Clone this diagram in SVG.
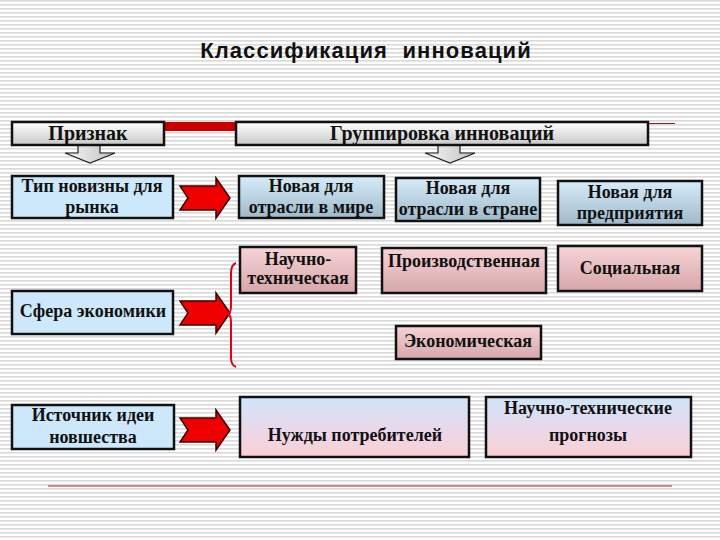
<svg xmlns="http://www.w3.org/2000/svg" width="720" height="540" viewBox="0 0 720 540">
<defs>
<pattern id="stripes" x="0" y="0" width="8" height="4" patternUnits="userSpaceOnUse">
<rect width="8" height="4" fill="#ffffff"/>
<rect y="0" width="8" height="1.6" fill="#d9d9d9"/>
</pattern>
<linearGradient id="gGray" x1="0" y1="0" x2="0" y2="1">
<stop offset="0" stop-color="#ffffff"/>
<stop offset="1" stop-color="#c8c8c8"/>
</linearGradient>
<linearGradient id="gBlueDark" x1="0" y1="0" x2="0" y2="1">
<stop offset="0" stop-color="#d6ecfa"/>
<stop offset="1" stop-color="#9fb9ca"/>
</linearGradient>
<linearGradient id="gPink" x1="0" y1="0" x2="0" y2="1">
<stop offset="0" stop-color="#f6d4d6"/>
<stop offset="1" stop-color="#d6a6aa"/>
</linearGradient>
<linearGradient id="gBluePink" x1="0" y1="0" x2="0" y2="1">
<stop offset="0" stop-color="#cfe6f8"/>
<stop offset="0.55" stop-color="#ead8ea"/>
<stop offset="1" stop-color="#fbd0d2"/>
</linearGradient>
<linearGradient id="gDown" x1="0" y1="0" x2="1" y2="0">
<stop offset="0" stop-color="#f2f2f2"/>
<stop offset="1" stop-color="#c4c4c4"/>
</linearGradient>
<path id="redArrow" d="M0,8 L36,8 L36,0 L50,20 L36,40 L36,32 L0,32 L8,20 Z"/>
<path id="downArrow" d="M-12,0 L10,0 L10,8 L25,8 L0,18 L-25,8 L-12,8 Z"/>
</defs>
<style>
.box{stroke:#111;stroke-width:2.5}
.blue{fill:#cde8fa}
.t{font-family:"Liberation Serif","Times New Roman",serif;font-weight:bold;font-size:18px;fill:#111;text-anchor:middle}
.h{font-size:20px}
.arrow{fill:#ee0000;stroke:#3a0000;stroke-width:1.5;stroke-linejoin:miter}
.down{fill:url(#gDown);stroke:#222;stroke-width:1.2}
</style>
<rect width="720" height="540" fill="url(#stripes)"/>

<text x="366" y="58" font-family="'Liberation Sans',Arial,sans-serif" font-size="22" font-weight="bold" letter-spacing="1.1" fill="#111" text-anchor="middle" xml:space="preserve">Классификация  инноваций</text>

<g id="connectors">
<rect x="164" y="122" width="72" height="9" fill="#cc0000"/>
<line x1="648" y1="123.5" x2="675" y2="123.5" stroke="#a01818" stroke-width="1"/>
<use href="#downArrow" x="90" y="145" class="down"/>
<use href="#downArrow" x="450" y="145" class="down"/>
<use href="#redArrow" x="180" y="178" class="arrow"/>
<use href="#redArrow" x="180" y="293" class="arrow"/>
<use href="#redArrow" x="180" y="410" class="arrow"/>
<path d="M236,263 Q231,265 231,273 L231,306 Q231,313 228,314 Q231,315 231,322 L231,358 Q231,365 236,367" fill="none" stroke="#e0001a" stroke-width="2"/>
<line x1="48" y1="486" x2="672" y2="486" stroke="#b02020" stroke-width="1"/>
</g>

<g id="n-priznak">
<rect x="12" y="122" width="152" height="23" fill="url(#gGray)" class="box"/>
<text x="88" y="140" class="t h">Признак</text>
</g>
<g id="n-gruppirovka">
<rect x="236" y="122" width="412" height="23" fill="url(#gGray)" class="box"/>
<text x="442" y="140" class="t h">Группировка инноваций</text>
</g>

<g id="n-tip">
<rect x="12" y="176" width="161" height="42" class="box blue"/>
<text x="92" y="192" class="t">Тип новизны для</text>
<text x="92" y="213" class="t">рынка</text>
</g>
<g id="n-mir">
<rect x="239" y="176" width="145" height="42" fill="url(#gBlueDark)" class="box"/>
<text x="311" y="192" class="t">Новая для</text>
<text x="311" y="213" class="t">отрасли в мире</text>
</g>
<g id="n-strana">
<rect x="396" y="178" width="144" height="43" fill="url(#gBlueDark)" class="box"/>
<text x="468" y="194" class="t">Новая для</text>
<text x="468" y="215" class="t">отрасли в стране</text>
</g>
<g id="n-predpr">
<rect x="558" y="181" width="144" height="44" fill="url(#gBlueDark)" class="box"/>
<text x="630" y="198" class="t">Новая для</text>
<text x="630" y="219" class="t">предприятия</text>
</g>

<g id="n-nauchno">
<rect x="240" y="247" width="116" height="46" fill="url(#gPink)" class="box"/>
<text x="298" y="265" class="t">Научно-</text>
<text x="298" y="284" class="t">техническая</text>
</g>
<g id="n-proizv">
<rect x="382" y="248" width="164" height="45" fill="url(#gPink)" class="box"/>
<text x="464" y="267" class="t">Производственная</text>
</g>
<g id="n-social">
<rect x="558" y="246" width="144" height="45" fill="url(#gPink)" class="box"/>
<text x="630" y="274" class="t">Социальная</text>
</g>

<g id="n-sfera">
<rect x="12" y="291" width="161" height="43" class="box blue"/>
<text x="93" y="317" class="t">Сфера экономики</text>
</g>
<g id="n-econom">
<rect x="396" y="326" width="145" height="33" fill="url(#gPink)" class="box"/>
<text x="468" y="347" class="t">Экономическая</text>
</g>

<g id="n-istochnik">
<rect x="12" y="405" width="162" height="44" class="box blue"/>
<text x="93" y="421" class="t">Источник идеи</text>
<text x="93" y="443" class="t">новшества</text>
</g>
<g id="n-nuzhdy">
<rect x="240" y="397" width="229" height="60" fill="url(#gBluePink)" class="box"/>
<text x="355" y="441" class="t">Нужды потребителей</text>
</g>
<g id="n-prognozy">
<rect x="486" y="397" width="205" height="60" fill="url(#gBluePink)" class="box"/>
<text x="588" y="414" class="t">Научно-технические</text>
<text x="588" y="441" class="t">прогнозы</text>
</g>
</svg>
